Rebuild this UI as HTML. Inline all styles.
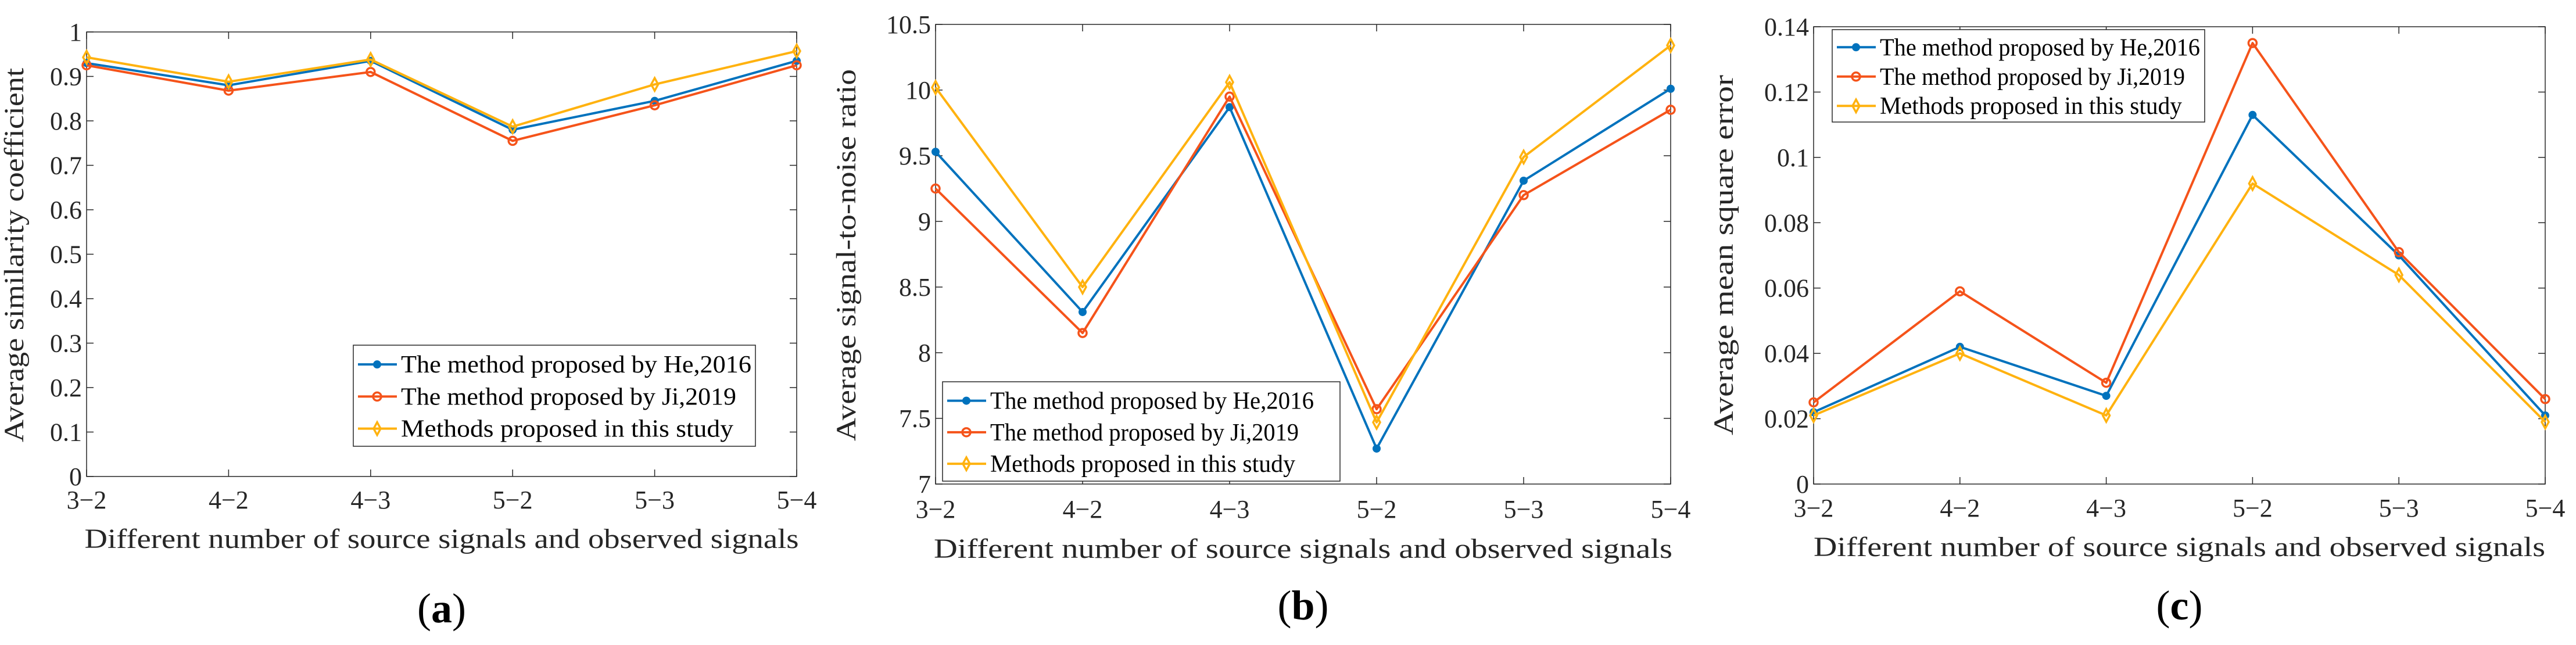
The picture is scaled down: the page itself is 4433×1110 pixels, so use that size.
<!DOCTYPE html>
<html><head><meta charset="utf-8">
<style>
html,body{margin:0;padding:0;background:#fff;}
svg{display:block;font-family:"Liberation Serif",serif;}
</style></head>
<body>
<svg id="fig" width="4433" height="1110" viewBox="0 0 4433 1110" xmlns="http://www.w3.org/2000/svg"></svg>
<script>
const categories = ["3\u22122","4\u22122","4\u22123","5\u22122","5\u22123","5\u22124"];
const seriesNames = ["The method proposed by He,2016","The method proposed by Ji,2019","Methods proposed in this study"];
const simHe = [0.93,0.88,0.935,0.78,0.845,0.935];
const simJi = [0.925,0.868,0.91,0.755,0.835,0.925];
const simOurs = [0.943,0.888,0.938,0.787,0.882,0.957];
const snrHe = [9.53,8.31,9.87,7.27,9.31,10.01];
const snrJi = [9.25,8.15,9.95,7.57,9.2,9.85];
const snrOurs = [10.02,8.5,10.06,7.47,9.49,10.34];
const mseHe = [0.022,0.042,0.027,0.113,0.070,0.021];
const mseJi = [0.025,0.059,0.031,0.135,0.071,0.026];
const mseOurs = [0.021,0.040,0.021,0.092,0.064,0.019];
const simTicks = ["0","0.1","0.2","0.3","0.4","0.5","0.6","0.7","0.8","0.9","1"];
const snrTicks = ["7","7.5","8","8.5","9","9.5","10","10.5"];
const mseTicks = ["0","0.02","0.04","0.06","0.08","0.1","0.12","0.14"];

const NS="http://www.w3.org/2000/svg";
const colors=["#0072BD","#F5531A","#FFB20F"];
const fig=document.getElementById('fig');
function mk(tag,attrs,parent){const e=document.createElementNS(NS,tag);for(const k in attrs)e.setAttribute(k,attrs[k]);(parent||fig).appendChild(e);return e;}

function marker(g,kind,x,y,c){
  let m;
  if(kind===0){m=mk('circle',{cx:x,cy:y,r:6,fill:c,stroke:c,'stroke-width':2},g);}
  else if(kind===1){m=mk('circle',{cx:x,cy:y,r:7,fill:'none',stroke:c,'stroke-width':3.5},g);}
  else {m=mk('path',{d:`M${x} ${y-11}L${x+6} ${y}L${x} ${y+11}L${x-6} ${y}Z`,fill:'none',stroke:c,'stroke-width':3.5},g);}
  return m;
}

function chart(o){
  const g=mk('g',{});
  
  
  const {L,R,T,B}=o;
  const ymin=parseFloat(o.ticks[0]),ymax=parseFloat(o.ticks[o.ticks.length-1]);
  const xs=i=>L+(R-L)*i/(categories.length-1);
  const ys=v=>B-(B-T)*(v-ymin)/(ymax-ymin);
  const box=mk('rect',{x:L,y:T,width:R-L,height:B-T,fill:'#fff',stroke:'#262626','stroke-width':1.5},g);
  
  
  o.ticks.forEach(t=>{
    const y=ys(parseFloat(t));
    mk('line',{x1:L,x2:L+12,y1:y,y2:y,stroke:'#262626','stroke-width':1.5},g);
    mk('line',{x1:R,x2:R-12,y1:y,y2:y,stroke:'#262626','stroke-width':1.5},g);
    const tx=mk('text',{x:L-8,y:y+15,'text-anchor':'end','font-size':44,fill:'#262626'},g);
    tx.textContent=t;
    
    
  });
  categories.forEach((c,i)=>{
    const x=xs(i);
    mk('line',{x1:x,x2:x,y1:B,y2:B-12,stroke:'#262626','stroke-width':1.5},g);
    mk('line',{x1:x,x2:x,y1:T,y2:T+12,stroke:'#262626','stroke-width':1.5},g);
    const tx=mk('text',{x:x,y:o.tickY+15,'text-anchor':'middle','font-size':44,fill:'#262626'},g);
    tx.textContent=c;
    
    
  });
  o.series.forEach((s,k)=>{
    const pts=s.map((v,i)=>xs(i)+','+ys(v)).join(' ');
    const pl=mk('polyline',{points:pts,fill:'none',stroke:colors[k],'stroke-width':4,'stroke-linejoin':'round'},g);
    
    
    s.forEach((v,i)=>{
      const m=marker(g,k,xs(i),ys(v),colors[k]);
      
      
    });
  });
  const xt=mk('text',{x:(L+R)/2,y:o.xtY+16,'text-anchor':'middle','font-size':48,fill:'#262626',textLength:o.xtW,lengthAdjust:'spacingAndGlyphs'},g);
  xt.textContent="Different number of source signals and observed signals";
  
  
  const yc=(T+B)/2;
  const yt=mk('text',{x:0,y:0,'text-anchor':'middle','font-size':48,fill:'#262626',textLength:o.ytW,lengthAdjust:'spacingAndGlyphs',transform:`translate(${o.ytX},${o.ytY||yc}) rotate(-90)`},g);
  yt.textContent=o.ytitle;
  
  
  const lg=mk('g',{},g);
  
  
  mk('rect',{x:o.lg[0],y:o.lg[1],width:o.lg[2],height:o.lg[3],fill:'#fff',stroke:'#262626','stroke-width':1.5},lg);
  const rowH=o.lg[3]/3.15;
  seriesNames.forEach((n,k)=>{
    const cy=o.lg[1]+rowH*(k+0.6);
    const lx=o.lg[0]+8;
    mk('line',{x1:lx,x2:lx+67,y1:cy,y2:cy,stroke:colors[k],'stroke-width':4},lg);
    marker(lg,k,lx+33,cy,colors[k]);
    const t=mk('text',{x:lx+74,y:cy+14,'font-size':42,fill:'#000',textLength:o.lgW[k],lengthAdjust:'spacingAndGlyphs'},lg);
    t.textContent=n;
    
    
  });
  const lab=mk('text',{x:(L+R)/2,y:o.labY+25,'text-anchor':'middle','font-size':72,fill:'#000'},g);
  lab.innerHTML='(<tspan font-weight="bold">'+o.label+'</tspan>)';
  
  
}

chart({name:'chart-similarity',L:149,R:1371,T:55,B:820,ticks:simTicks,series:[simHe,simJi,simOurs],
  tickY:860,xtY:927,xtW:1229,ytitle:"Average similarity coefficient",ytX:40,ytY:439,ytW:644,
  lg:[608,594,692,174],lgW:[603,577,572],label:'a',labY:1046});
chart({name:'chart-snr',L:1610,R:2875,T:42,B:833,ticks:snrTicks,series:[snrHe,snrJi,snrOurs],
  tickY:876,xtY:944,xtW:1271,ytitle:"Average signal-to-noise ratio",ytX:1472,ytY:439,ytW:640,
  lg:[1622,657,684,171],lgW:[557,531,525],label:'b',labY:1041});
chart({name:'chart-mse',L:3121,R:4380,T:46,B:833,ticks:mseTicks,series:[mseHe,mseJi,mseOurs],
  tickY:874,xtY:941,xtW:1259,ytitle:"Average mean square error",ytX:2982,ytY:439,ytW:620,
  lg:[3153,51,641,159],lgW:[551,525,520],label:'c',labY:1041});
</script>
</body></html>
